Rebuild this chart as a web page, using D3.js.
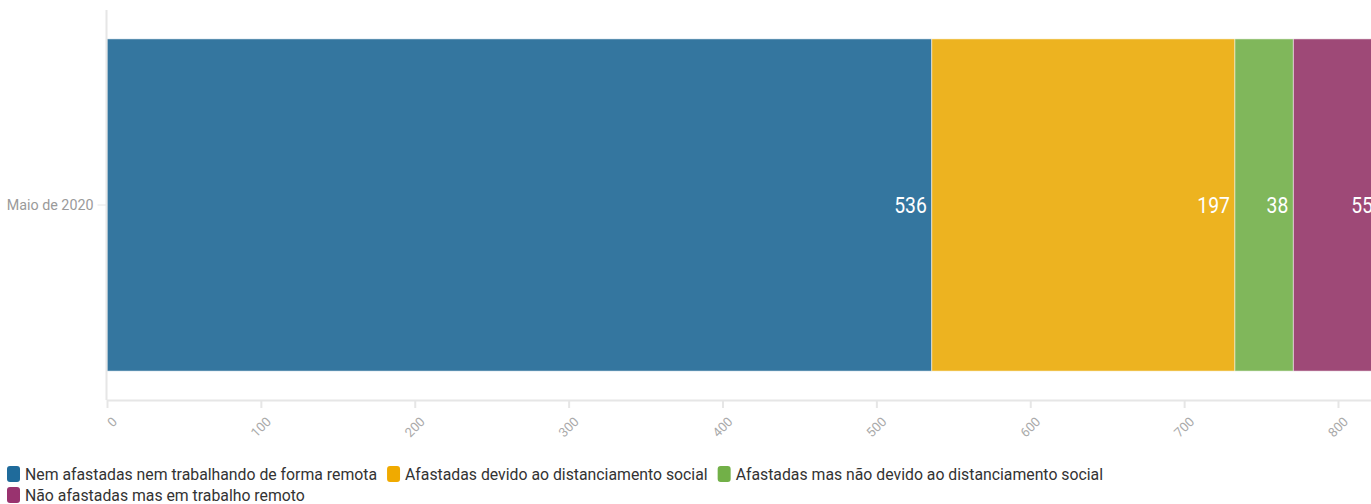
<!DOCTYPE html>
<html>
<head>
<meta charset="utf-8">
<script src="https://cdn.jsdelivr.net/npm/d3@7"></script>
<style>
  html, body { margin: 0; padding: 0; background: #fff; }
  svg { display: block; font-family: Roboto, "Noto Sans", sans-serif; }
</style>
</head>
<body>
<svg id="chart" width="1371" height="504"></svg>
<script>
// Single stacked bar: employed people by work situation, May 2020
const categories = ["Maio de 2020"];
const seriesNames = [
  "Nem afastadas nem trabalhando de forma remota",
  "Afastadas devido ao distanciamento social",
  "Afastadas mas não devido ao distanciamento social",
  "Não afastadas mas em trabalho remoto"
];
const seriesValues = [536, 197, 38, 55];
const tickValues = [0, 100, 200, 300, 400, 500, 600, 700, 800];
const barColors = ["#34769f", "#edb320", "#80b75b", "#9e4977"];
const legendColors = ["#1f6b9b", "#f0aa00", "#72b048", "#99336f"];

const svg = d3.select("#chart");
const W = 1371;

const total = d3.sum(seriesValues);
const plotLeft = 107, plotRight = 1378, plotTop = 10, plotBottom = 400;

const x = d3.scaleLinear().domain([0, total]).range([plotLeft, plotRight]);
const y = d3.scaleBand().domain(categories).range([plotTop, plotBottom])
  .paddingInner(0.08).paddingOuter(0.08);

// stacked segments
let acc = 0;
const segs = seriesValues.map((v, i) => {
  const s = { name: seriesNames[i], v, x0: acc, x1: acc + v, color: barColors[i] };
  acc += v;
  return s;
});

const gBars = svg.append("g");
gBars.selectAll("rect").data(segs).join("rect")
  .attr("x", d => x(d.x0))
  .attr("y", y(categories[0]))
  .attr("width", d => x(d.x1) - x(d.x0))
  .attr("height", y.bandwidth())
  .attr("fill", d => d.color)
  .attr("stroke", "rgba(255,255,255,0.5)")
  .attr("stroke-width", 1);

// value labels, right-aligned inside each segment (narrowed glyphs)
gBars.selectAll("text").data(segs).join("text")
  .attr("transform", d => `translate(${x(d.x1) - 5},${y(categories[0]) + y.bandwidth() / 2}) scale(0.9,1)`)
  .attr("dy", "0.36em")
  .attr("text-anchor", "end")
  .attr("fill", "#fff")
  .attr("font-size", 21.5)
  .text(d => d.v);

// x axis
const xAxis = svg.append("g").attr("transform", `translate(0,${plotBottom})`)
  .call(d3.axisBottom(x).tickValues(tickValues).tickSize(8).tickPadding(4));
xAxis.select(".domain").attr("stroke", "#e6e6e6").attr("stroke-width", 2)
  .attr("d", `M${plotLeft},0.5H${W}`);
xAxis.selectAll(".tick line").attr("stroke", "#e6e6e6").attr("stroke-width", 2);
xAxis.selectAll(".tick text")
  .attr("fill", "#aaaaaa")
  .attr("font-size", 13)
  .attr("font-family", "Roboto, sans-serif")
  .attr("text-anchor", "end")
  .attr("dy", "0")
  .attr("transform", "translate(2,14) rotate(-45)");

// y axis
const yAxis = svg.append("g").attr("transform", `translate(${plotLeft - 0.5},0)`)
  .call(d3.axisLeft(y).tickSize(9).tickPadding(4));
yAxis.select(".domain").attr("stroke", "#e6e6e6").attr("stroke-width", 2)
  .attr("d", `M0,${plotTop}V${plotBottom}`);
yAxis.selectAll(".tick line").attr("stroke", "#e6e6e6").attr("stroke-width", 1);
yAxis.selectAll(".tick text")
  .attr("fill", "#9a9a9a")
  .attr("font-size", 14.3)
  .attr("font-family", "Roboto, sans-serif");

// legend with wrapping
const legend = svg.append("g").attr("font-size", 15.8).attr("fill", "#333");
let lx = 7, ly = 474;
const maxX = W - 10;
seriesNames.forEach((name, i) => {
  const item = legend.append("g");
  item.append("rect").attr("x", 0).attr("y", -8).attr("width", 13).attr("height", 16)
    .attr("rx", 3).attr("fill", legendColors[i]);
  const t = item.append("text").attr("x", 18).attr("y", 0).attr("dy", "0.35em")
    .attr("fill", "#333").text(name);
  const w = 18 + t.node().getComputedTextLength();
  if (lx + w > maxX && lx > 7) { lx = 7; ly += 21; }
  item.attr("transform", `translate(${lx},${ly})`);
  lx += w + 10;
});
</script>
</body>
</html>
